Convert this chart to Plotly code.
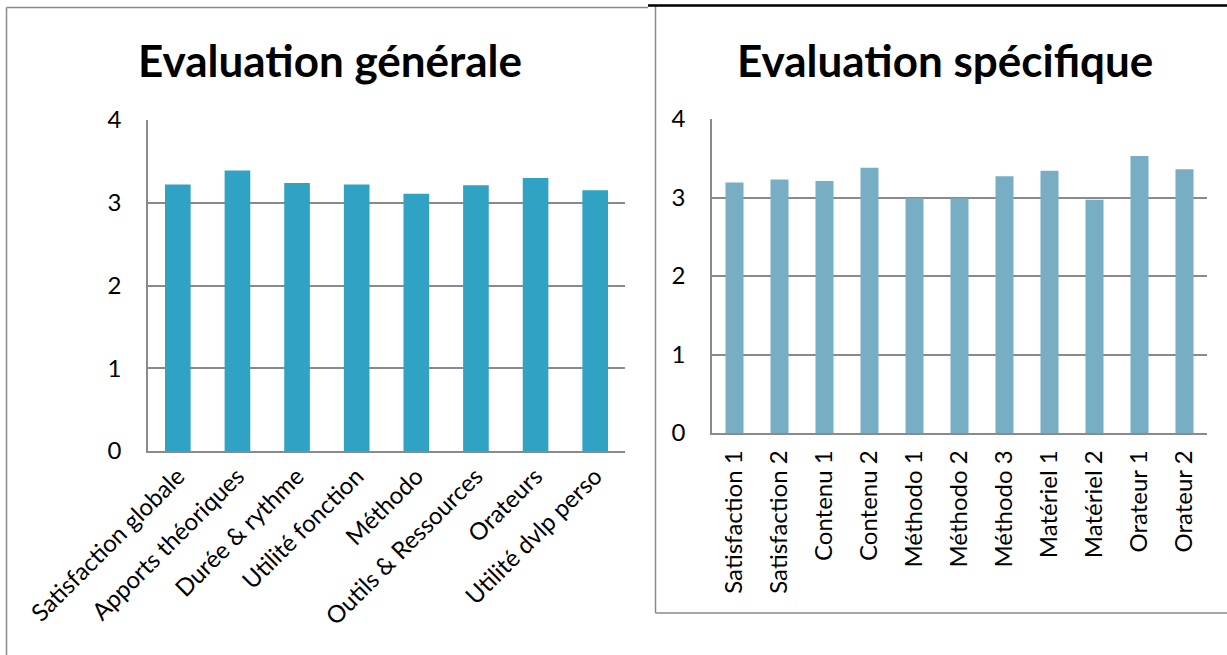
import plotly.graph_objects as go

# ---- data ----
gen_categories = ["Satisfaction globale", "Apports théoriques", "Durée & rythme",
                  "Utilité fonction", "Méthodo", "Outils & Ressources",
                  "Orateurs", "Utilité dvlp perso"]
gen_values = [3.22, 3.39, 3.24, 3.22, 3.11, 3.21, 3.30, 3.15]

spec_categories = ["Satisfaction 1", "Satisfaction 2", "Contenu 1", "Contenu 2",
                   "Méthodo 1", "Méthodo 2", "Méthodo 3", "Matériel 1",
                   "Matériel 2", "Orateur 1", "Orateur 2"]
spec_values = [3.19, 3.23, 3.21, 3.38, 2.99, 2.99, 3.27, 3.34, 2.97, 3.53, 3.36]

y_ticks = [0, 1, 2, 3, 4]

W, H = 1227, 655
def px(x):
    return x / W
def py(y):
    return 1 - y / H

FONT = "Lato"
GRID = "#8a8a8a"

fig = go.Figure()
fig.add_trace(go.Bar(x=gen_categories, y=gen_values, xaxis="x", yaxis="y",
                     marker=dict(color="#30a2c3", line=dict(width=0)), width=0.43))
fig.add_trace(go.Bar(x=spec_categories, y=spec_values, xaxis="x2", yaxis="y2",
                     marker=dict(color="#77aec3", line=dict(width=0)), width=0.4))

axis_common = dict(showline=True, linecolor=GRID, linewidth=1.5, automargin=False,
                   tickfont=dict(family=FONT, size=24, color="black"))
fig.update_layout(
    template="none",
    width=W, height=H, autosize=False,
    margin=dict(l=0, r=0, t=0, b=0, pad=0),
    paper_bgcolor="white", plot_bgcolor="white",
    showlegend=False,
    xaxis=dict(domain=[px(148), px(625)], anchor="y", tickangle=-45,
               ticks="", showgrid=False,
               **axis_common),
    yaxis=dict(domain=[py(451), py(120)], anchor="x", range=[0, 4],
               tickvals=y_ticks, showgrid=True, gridcolor=GRID, gridwidth=1.5,
               ticks="outside", ticklen=20, tickcolor="white",
               zeroline=False, **axis_common),
    xaxis2=dict(domain=[px(712), px(1207)], anchor="y2", tickangle=-90,
                ticks="outside", ticklen=6, tickcolor="white", showgrid=False,
                **axis_common),
    yaxis2=dict(domain=[py(433), py(119)], anchor="x2", range=[0, 4],
                tickvals=y_ticks, showgrid=True, gridcolor=GRID, gridwidth=1.5,
                ticks="outside", ticklen=20, tickcolor="white",
                zeroline=False, **axis_common),
)

# titles
fig.add_annotation(text="<b>Evaluation générale</b>", xref="paper", yref="paper",
                   x=px(330), y=py(60), xanchor="center", yanchor="middle",
                   showarrow=False, font=dict(family=FONT, size=44, color="black"))
fig.add_annotation(text="<b>Evaluation spécifique</b>", xref="paper", yref="paper",
                   x=px(945), y=py(60), xanchor="center", yanchor="middle",
                   showarrow=False, font=dict(family=FONT, size=44, color="black"))

# frames
fig.add_shape(type="line", xref="paper", yref="paper", x0=px(6.5), x1=px(6.5),
              y0=py(7.5), y1=py(660), line=dict(color=GRID, width=1.5))
fig.add_shape(type="line", xref="paper", yref="paper", x0=px(6.5), x1=px(648),
              y0=py(7.5), y1=py(7.5), line=dict(color=GRID, width=1.5))
fig.add_shape(type="line", xref="paper", yref="paper", x0=px(655.5), x1=px(655.5),
              y0=py(6), y1=py(613), line=dict(color=GRID, width=1.5))
fig.add_shape(type="line", xref="paper", yref="paper", x0=px(655.5), x1=px(1230),
              y0=py(613), y1=py(613), line=dict(color=GRID, width=1.5))
fig.add_shape(type="line", xref="paper", yref="paper", x0=px(648), x1=px(1230),
              y0=py(5.5), y1=py(5.5), line=dict(color="black", width=2.5))

fig.write_html("out.html",
               config={"displayModeBar": False},
               post_script="document.body.style.margin='0px';"
                           "document.body.style.overflow='hidden';")
